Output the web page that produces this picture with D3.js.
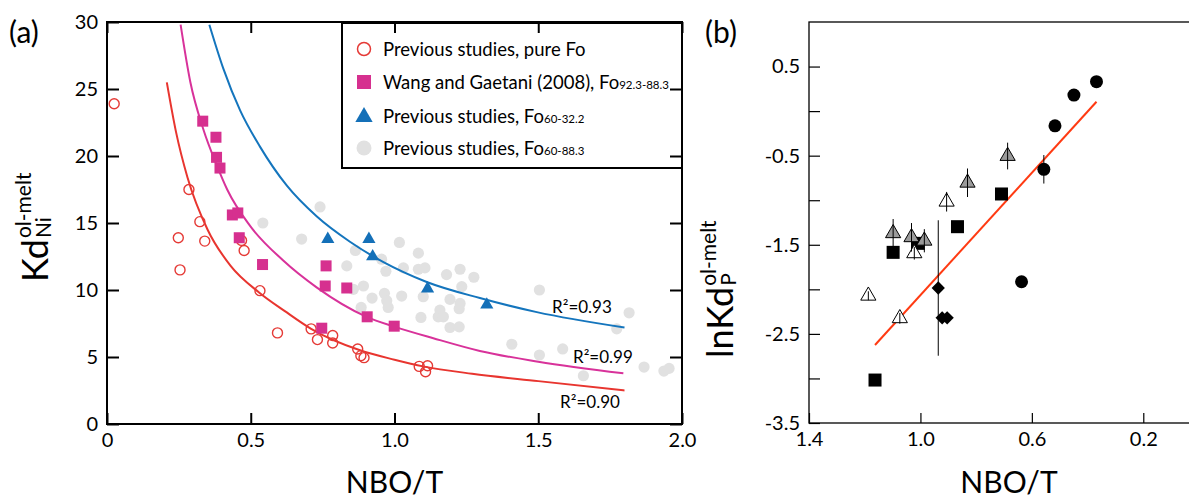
<!DOCTYPE html>
<html>
<head>
<meta charset="utf-8">
<script src="https://cdn.jsdelivr.net/npm/d3@7"></script>
<style>
body { margin: 0; background: #fff; }
svg { font-family: Lato, "Open Sans", sans-serif; }
.axis path { display: none; }
.axis line { stroke: #000; }
.axis text { font-size: 20px; fill: #000; font-family: Lato, "Open Sans", sans-serif; }
.axA line { stroke-width: 2; }
.axB line { stroke-width: 1.2; }
</style>
</head>
<body>
<svg width="1189" height="498"></svg>
<script>
// ---- panel (a): Kd Ni vs NBO/T ----
var aXTicks = [0, 0.5, 1.0, 1.5, 2.0];
var aYTicks = [0, 5, 10, 15, 20, 25, 30];

var pureFo = [[0.025,23.9],[0.285,17.5],[0.323,15.1],[0.248,13.9],[0.34,13.65],[0.254,11.5],
  [0.468,13.7],[0.477,12.95],[0.532,9.95],[0.593,6.8],[0.71,7.1],[0.732,6.3],[0.785,6.6],
  [0.785,6.05],[0.872,5.6],[0.883,5.1],[0.894,4.95],[1.086,4.3],[1.115,4.35],[1.108,3.9]];
var wangGaetani = [[0.333,22.6],[0.379,21.4],[0.381,19.9],[0.393,19.1],[0.436,15.6],[0.455,15.75],
  [0.46,13.9],[0.541,11.9],[0.762,11.8],[0.759,10.3],[0.834,10.15],[0.905,8.0],[0.999,7.3],[0.747,7.15]];
var fo60_32 = [[0.768,13.8],[0.911,13.8],[0.924,12.5],[1.115,10.1],[1.321,8.9]];
var fo60_88 = [[0.741,16.2],[0.542,15.0],[0.677,13.8],[1.017,13.55],[0.864,12.95],[1.083,12.75],
  [0.955,12.3],[0.834,11.8],[1.031,11.65],[0.97,11.4],[1.083,11.55],[1.106,11.65],[1.228,11.55],
  [1.181,11.15],[1.276,10.95],[0.892,10.3],[0.857,10.05],[1.234,10.25],[0.965,9.75],[1.025,9.55],
  [1.1,9.5],[0.922,9.4],[1.193,9.3],[0.973,9.2],[1.228,9.0],[0.978,8.7],[0.884,8.7],[1.158,8.5],
  [1.225,8.6],[1.092,7.95],[1.152,8.0],[1.17,8.0],[1.193,7.2],[1.225,7.25],[1.504,10.0],[1.816,8.3],
  [1.773,7.1],[1.408,5.95],[1.504,5.15],[1.585,5.6],[1.657,3.6],[1.868,4.25],[1.937,3.95],[1.955,4.15]];

// fitted curves
var fitPureFo = [[0.208,25.5],[0.24,21.8],[0.28,18.4],[0.35,14.5],[0.43,11.8],[0.53,9.8],[0.62,8.4],
  [0.71,7.1],[0.88,5.5],[1.0,4.8],[1.1,4.3],[1.27,3.75],[1.5,3.2],[1.8,2.5]];
var fitWang = [[0.256,29.8],[0.29,25.5],[0.335,22.0],[0.382,19.3],[0.418,17.5],[0.497,14.8],[0.613,12.2],
  [0.729,10.2],[0.903,8.0],[1.002,7.25],[1.135,6.4],[1.297,5.45],[1.5,4.65],[1.796,3.78]];
var fitFo60 = [[0.356,29.8],[0.405,26.5],[0.463,23.4],[0.532,20.7],[0.625,17.8],[0.729,15.5],[0.845,13.6],
  [0.96,12.1],[1.112,10.6],[1.297,9.4],[1.495,8.35],[1.8,7.2]];
var r2Labels = [["0.93", 1.548, 8.3], ["0.99", 1.621, 4.55], ["0.90", 1.576, 1.2]];

var legendLabels = [["Previous studies, pure Fo", ""], ["Wang and Gaetani (2008), Fo", "92.3-88.3"],
  ["Previous studies, Fo", "60-32.2"], ["Previous studies, Fo", "60-88.3"]];

// ---- panel (b): lnKd P vs NBO/T  [x, y, error half-width] ----
var bXTicks = [1.4, 1.0, 0.6, 0.2];
var bYTicks = [-3.5, -3, -2.5, -2, -1.5, -1, -0.5, 0, 0.5];
var bYLabels = [-3.5, -2.5, -1.5, -0.5, 0.5];
var bCircles = [[0.368,0.33,0],[0.449,0.18,0],[0.517,-0.165,0],[0.557,-0.653,0.16],[0.637,-1.915,0]];
var bSquares = [[0.709,-0.93],[0.867,-1.297],[1.098,-1.585],[1.008,-1.484],[1.163,-3.018]];
var bGreyTri = [[0.687,-0.504,0.15],[0.831,-0.804,0.16],[1.098,-1.371,0.16],[1.032,-1.416,0.16],[0.986,-1.455,0.13]];
var bOpenTri = [[0.906,-1.017,0.11],[1.022,-1.596,0.07],[1.187,-2.072,0.05],[1.074,-2.325,0.06]];
var bDiamonds = [[0.936,-1.985,0.76],[0.922,-2.319,0],[0.904,-2.319,0]];
var bFit = [[1.163,-2.625],[0.368,0.105]];

var svg = d3.select("svg");
var fmt1 = function(v) { return v === 0 ? "0" : v.toFixed(1); };

// ================= panel (a) =================
var xA = d3.scaleLinear().domain([0, 2]).range([107, 682]),
    yA = d3.scaleLinear().domain([0, 30]).range([424, 22]);
var gA = svg.append("g");

gA.selectAll(".grey").data(fo60_88).enter().append("circle")
    .attr("cx", function(d) { return xA(d[0]); })
    .attr("cy", function(d) { return yA(d[1]); })
    .attr("r", 5.6).attr("fill", "#e1e1e1");

var lineA = d3.line().curve(d3.curveMonotoneX)
    .x(function(d) { return xA(d[0]); })
    .y(function(d) { return yA(d[1]); });
[[fitPureFo, "#e8352f"], [fitWang, "#d8329a"], [fitFo60, "#1475bd"]].forEach(function(f) {
    gA.append("path").attr("d", lineA(f[0])).attr("fill", "none")
        .attr("stroke", f[1]).attr("stroke-width", 2);
});

gA.selectAll(".fo").data(pureFo).enter().append("circle")
    .attr("cx", function(d) { return xA(d[0]); })
    .attr("cy", function(d) { return yA(d[1]); })
    .attr("r", 5).attr("fill", "none").attr("stroke", "#e53a36").attr("stroke-width", 1.4);

gA.selectAll(".wg").data(wangGaetani).enter().append("rect")
    .attr("x", function(d) { return xA(d[0]) - 5.5; })
    .attr("y", function(d) { return yA(d[1]) - 5.5; })
    .attr("width", 11).attr("height", 11).attr("fill", "#d6308f");

var tri = d3.symbol().type(d3.symbolTriangle).size(75);
gA.selectAll(".tri").data(fo60_32).enter().append("path")
    .attr("d", tri)
    .attr("transform", function(d) { return "translate(" + xA(d[0]) + "," + yA(d[1]) + ")"; })
    .attr("fill", "#1470b8");

gA.selectAll(".r2").data(r2Labels).enter().append("text")
    .attr("x", function(d) { return xA(d[1]); })
    .attr("y", function(d) { return yA(d[2]); })
    .attr("font-size", "17px")
    .text(function(d) { return "R\u00b2=" + d[0]; });

// legend
var lg = gA.append("g");
lg.append("rect").attr("x", 342).attr("y", 23).attr("width", 340).attr("height", 145)
    .attr("fill", "#fff").attr("stroke", "#000").attr("stroke-width", 2);
var lgY = [49, 82, 116, 148];
lg.append("circle").attr("cx", 364).attr("cy", lgY[0]).attr("r", 6.5)
    .attr("fill", "none").attr("stroke", "#e53a36").attr("stroke-width", 1.5);
lg.append("rect").attr("x", 357).attr("y", lgY[1] - 7).attr("width", 14).attr("height", 14).attr("fill", "#d6308f");
lg.append("path").attr("d", d3.symbol().type(d3.symbolTriangle).size(130))
    .attr("transform", "translate(364," + (lgY[2] + 1) + ")").attr("fill", "#1470b8");
lg.append("circle").attr("cx", 364).attr("cy", lgY[3]).attr("r", 7.5).attr("fill", "#e1e1e1");
legendLabels.forEach(function(l, i) {
    var t = lg.append("text").attr("x", 383).attr("y", lgY[i] + 7).attr("font-size", "18.5px").text(l[0]);
    if (l[1]) t.append("tspan").attr("font-size", "11.5px").text(l[1]);
});

// axes + frame (drawn over the legend)
gA.append("rect").attr("x", xA(0)).attr("y", yA(30)).attr("width", xA(2) - xA(0))
    .attr("height", yA(0) - yA(30)).attr("fill", "none").attr("stroke", "#000").attr("stroke-width", 2);
gA.append("g").attr("class", "axis axA").attr("transform", "translate(" + xA(0) + ",0)")
    .call(d3.axisLeft(yA).tickValues(aYTicks).tickSize(-12).tickPadding(9));
gA.append("g").attr("class", "axis axA").attr("transform", "translate(" + xA(2) + ",0)")
    .call(d3.axisRight(yA).tickValues(aYTicks).tickSize(-12).tickFormat(""));
gA.append("g").attr("class", "axis axA").attr("transform", "translate(0," + yA(0) + ")")
    .call(d3.axisBottom(xA).tickValues(aXTicks).tickSize(-11).tickPadding(9).tickFormat(fmt1));
gA.append("g").attr("class", "axis axA").attr("transform", "translate(0," + yA(30) + ")")
    .call(d3.axisTop(xA).tickValues(aXTicks).tickSize(-11).tickFormat(""));

gA.append("text").attr("x", 9).attr("y", 43).attr("font-size", "30px").text("(a)");
gA.append("text").attr("x", (xA(0) + xA(2)) / 2).attr("y", 493).attr("text-anchor", "middle")
    .attr("font-size", "30px").text("NBO/T");

var yl = gA.append("g").attr("transform", "translate(48,282) rotate(-90)");
var kd = yl.append("text").attr("font-size", "36px").text("Kd");
var kw = kd.node().getComputedTextLength();
yl.append("text").attr("x", kw + 1).attr("y", -17).attr("font-size", "21px").text("ol-melt");
yl.append("text").attr("x", kw + 1).attr("y", 3).attr("font-size", "21px").text("Ni");

// ================= panel (b) =================
var xB = d3.scaleLinear().domain([1.4, 0]).range([809, 1199]),
    yB = d3.scaleLinear().domain([-3.5, 1.0]).range([423, 22]);
var gB = svg.append("g");

gB.append("rect").attr("x", xB(1.4)).attr("y", yB(1)).attr("width", xB(0) - xB(1.4))
    .attr("height", yB(-3.5) - yB(1)).attr("fill", "none").attr("stroke", "#000").attr("stroke-width", 1.3);
gB.append("g").attr("class", "axis axB").attr("transform", "translate(" + xB(1.4) + ",0)")
    .call(d3.axisLeft(yB).tickValues(bYTicks).tickSize(-11).tickPadding(9)
        .tickFormat(function(v) { return bYLabels.indexOf(v) >= 0 ? v.toFixed(1) : ""; }));
gB.append("g").attr("class", "axis axB").attr("transform", "translate(0," + yB(-3.5) + ")")
    .call(d3.axisBottom(xB).tickValues(bXTicks).tickSize(-10).tickPadding(9)
        .tickFormat(function(v) { return v.toFixed(1); }));

gB.append("path").attr("d", d3.line()
        .x(function(d) { return xB(d[0]); })
        .y(function(d) { return yB(d[1]); })(bFit))
    .attr("stroke", "#ff3a12").attr("stroke-width", 2).attr("fill", "none");

var allErr = bCircles.concat(bGreyTri, bOpenTri, bDiamonds).filter(function(d) { return d[2] > 0; });

function pos(d) { return "translate(" + xB(d[0]) + "," + yB(d[1]) + ")"; }

gB.selectAll(".sq").data(bSquares).enter().append("rect")
    .attr("x", function(d) { return xB(d[0]) - 6.5; })
    .attr("y", function(d) { return yB(d[1]) - 6.5; })
    .attr("width", 13).attr("height", 13).attr("fill", "#000");
gB.selectAll(".ci").data(bCircles).enter().append("circle")
    .attr("cx", function(d) { return xB(d[0]); })
    .attr("cy", function(d) { return yB(d[1]); })
    .attr("r", 6.5).attr("fill", "#000");
gB.selectAll(".di").data(bDiamonds).enter().append("path")
    .attr("d", d3.symbol().type(d3.symbolSquare).size(88))
    .attr("transform", function(d) { return pos(d) + " rotate(45)"; })
    .attr("fill", "#000");
var triB = d3.symbol().type(d3.symbolTriangle).size(100);
gB.selectAll(".gt").data(bGreyTri).enter().append("path")
    .attr("d", triB).attr("transform", pos)
    .attr("fill", "#9a9a9a").attr("stroke", "#000").attr("stroke-width", 1);
gB.selectAll(".ot").data(bOpenTri).enter().append("path")
    .attr("d", triB).attr("transform", pos)
    .attr("fill", "#fff").attr("stroke", "#000").attr("stroke-width", 1);
gB.selectAll(".err").data(allErr).enter().append("line")
    .attr("x1", function(d) { return xB(d[0]); })
    .attr("x2", function(d) { return xB(d[0]); })
    .attr("y1", function(d) { return yB(d[1] + d[2]); })
    .attr("y2", function(d) { return yB(d[1] - d[2]); })
    .attr("stroke", "#000").attr("stroke-width", 1);

gB.append("text").attr("x", 705).attr("y", 43).attr("font-size", "30px").text("(b)");
gB.append("text").attr("x", (xB(1.4) + 1189) / 2 + 10).attr("y", 493).attr("text-anchor", "middle")
    .attr("font-size", "30px").text("NBO/T");

var ylb = gB.append("g").attr("transform", "translate(733,358) rotate(-90)");
var lk = ylb.append("text").attr("font-size", "36px").text("lnKd");
var lw = lk.node().getComputedTextLength();
ylb.append("text").attr("x", lw + 1).attr("y", -17).attr("font-size", "21px").text("ol-melt");
ylb.append("text").attr("x", lw + 1).attr("y", 3).attr("font-size", "21px").text("P");
</script>
</body>
</html>
